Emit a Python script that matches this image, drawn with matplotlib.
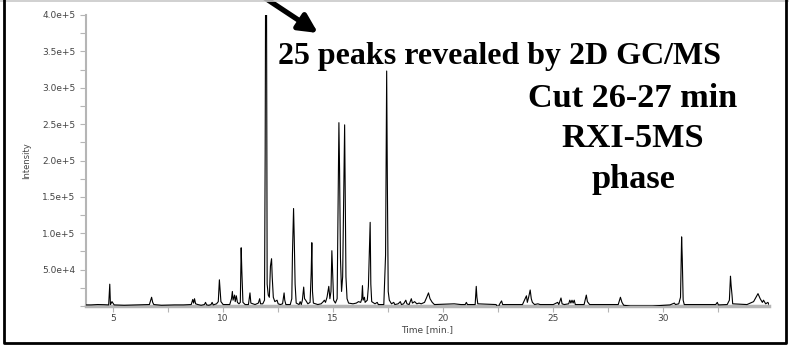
import matplotlib
matplotlib.use("Agg")
import matplotlib.pyplot as plt
import numpy as np
from matplotlib.lines import Line2D
from matplotlib.ticker import MultipleLocator, FuncFormatter

# chromatogram trace (time in min, intensity in 1e3 counts)
trace_time = [
    3.77, 4.0, 4.3, 4.6, 4.8, 4.85, 4.88, 4.95, 5.05, 5.5, 6.0, 6.65, 6.75, 6.8, 6.85,
    7.2, 7.8, 8.2, 8.55, 8.62, 8.66, 8.7, 8.75, 8.85, 9.0, 9.15, 9.2, 9.25, 9.35, 9.45,
    9.5, 9.55, 9.7, 9.78, 9.83, 9.86, 9.9, 10.0, 10.3, 10.38, 10.42, 10.45, 10.52, 10.55,
    10.6, 10.65, 10.72, 10.78, 10.82, 10.85, 10.9, 11.0, 11.15, 11.22, 11.26, 11.45, 11.6,
    11.66, 11.7, 11.8, 11.88, 11.91, 11.93, 11.97, 12.0, 12.05, 12.1, 12.15, 12.2, 12.23,
    12.28, 12.35, 12.45, 12.5, 12.6, 12.7, 12.77, 12.8, 12.85, 13.05, 13.12, 13.15, 13.2,
    13.23, 13.27, 13.32, 13.45, 13.5, 13.55, 13.6, 13.66, 13.7, 13.75, 13.85, 13.95, 14.0,
    14.03, 14.06, 14.1, 14.3, 14.45, 14.55, 14.6, 14.65, 14.72, 14.8, 14.85, 14.9, 14.94,
    14.97, 15.02, 15.1, 15.18, 15.22, 15.26, 15.29, 15.33, 15.38, 15.43, 15.48, 15.52,
    15.55, 15.58, 15.63, 15.7, 15.9, 16.05, 16.15, 16.25, 16.3, 16.33, 16.36, 16.42, 16.45,
    16.55, 16.6, 16.65, 16.68, 16.71, 16.75, 16.9, 17.0, 17.05, 17.3, 17.38, 17.43, 17.46,
    17.5, 17.55, 17.65, 17.75, 17.8, 17.95, 18.05, 18.1, 18.2, 18.3, 18.35, 18.45, 18.55,
    18.6, 18.7, 18.8, 18.9, 19.0, 19.15, 19.25, 19.33, 19.4, 19.5, 19.6, 20.0, 20.5, 20.8,
    21.0, 21.05, 21.1, 21.45, 21.5, 21.53, 21.57, 22.0, 22.4, 22.5, 22.55, 22.65, 22.7,
    23.0, 23.6, 23.78, 23.82, 23.88, 23.95, 24.0, 24.05, 24.15, 24.3, 24.4, 25.0, 25.2,
    25.25, 25.35, 25.4, 25.5, 25.7, 25.75, 25.8, 25.85, 25.9, 25.95, 26.0, 26.4, 26.5,
    26.55, 26.65, 27.5, 27.95, 28.05, 28.12, 28.2, 28.5, 29.5, 30.0, 30.3, 30.5, 30.55,
    30.7, 30.78, 30.83, 30.86, 30.9, 30.95, 32.0, 32.38, 32.45, 32.5, 32.9, 33.0, 33.05,
    33.08, 33.12, 33.15, 33.8, 34.1, 34.3, 34.4, 34.5, 34.55, 34.65, 34.75, 34.8,
]
trace_kcounts = [
    1.5, 1.5, 2.0, 1.8, 1.5, 30, 2, 6, 1.5, 1.0, 1.5, 2, 12, 5, 2,
    1, 1.5, 1.5, 2, 9, 4, 10, 3, 2, 1, 2, 5, 1.5, 1, 2,
    5, 1.5, 3, 6, 36, 24, 6, 2, 2, 10, 20, 8, 15, 6,
    14, 5, 3, 5, 80, 48, 5, 2, 2, 18, 4, 2, 4,
    10, 3, 3, 8, 210, 450, 450, 30, 15, 12, 55, 65, 40,
    12, 6, 8, 3, 2, 3, 18, 8, 2, 2, 10, 72, 134,
    95, 30, 4, 2, 6, 2, 8, 26, 10, 8, 3, 5, 45,
    87, 20, 4, 2, 3, 6, 8, 5, 12, 27, 10, 20, 76,
    50, 8, 4, 10, 130, 252, 187, 66, 20, 40, 150, 249,
    142, 40, 10, 4, 3, 4, 6, 5, 10, 28, 8, 12, 5,
    8, 27, 82, 115, 30, 6, 3, 5, 2, 2, 70, 323, 175,
    20, 8, 3, 5, 2, 3, 6, 2, 3, 8, 3, 2, 10,
    4, 6, 3, 4, 3, 5, 12, 18, 10, 5, 2, 2.5, 3, 2,
    2, 5, 2, 2, 27, 12, 3, 2.5, 2, -2, 2, 7, 2,
    2, 2, 14, 5, 12, 22, 10, 5, 2, 3, 2, 2, 5,
    2, 11, 3, 2, 3, 8, 4, 8, 4, 8, 2, 2, 15,
    6, 2, 2, 2, 12, 5, 1, 0, 0, 1, 1.5, 4, 2,
    3, 12, 95, 65, 8, 2, 2, 2, 5, 1.5, 2, 8, 41,
    28, 15, 3, 2, 6, 17, 10, 5, 8, 3, 5, 2,
]

x_major = [5, 10, 15, 20, 25, 30]
y_major = [5.0e4, 1.0e5, 1.5e5, 2.0e5, 2.5e5, 3.0e5, 3.5e5, 4.0e5]

title_lines = ["25 peaks revealed by 2D GC/MS", "Cut 26-27 min", "RXI-5MS", "phase"]

W, H = 789, 346
fig = plt.figure(figsize=(W / 100, H / 100), dpi=100)
ax = fig.add_axes([86 / W, 1 - 306 / H, (769 - 86) / W, (306 - 15) / H])

t = np.array(trace_time)
y = np.array(trace_kcounts) * 1e3
ax.plot(t, y, color="black", lw=0.8, zorder=3)

ax.set_xlim(3.77, 34.8)
ax.set_ylim(0, 4.0e5)

axis_grey = "#b5b5b5"
for side in ["top", "right"]:
    ax.spines[side].set_visible(False)
ax.spines["left"].set_color(axis_grey)
ax.spines["left"].set_linewidth(1.5)
ax.spines["bottom"].set_color(axis_grey)
ax.spines["bottom"].set_linewidth(2.5)

ax.set_xticks(x_major)
ax.xaxis.set_minor_locator(MultipleLocator(2.5))
ax.set_yticks(y_major)
ax.yaxis.set_minor_locator(MultipleLocator(2.5e4))


def sci(v, pos):
    m, e = f"{v:.1e}".split("e")
    return f"{m}e+{int(e)}"


ax.yaxis.set_major_formatter(FuncFormatter(sci))
ax.tick_params(axis="both", which="both", colors=axis_grey, labelcolor="#444444",
               labelsize=6.5, direction="out")
ax.tick_params(axis="both", which="major", length=4, width=0.8)
ax.tick_params(axis="both", which="minor", length=4, width=0.8)
ax.tick_params(axis="x", pad=2)

ax.set_xlabel("Time [min.]", fontsize=6.5, color="#444444", labelpad=1)
ax.set_ylabel("Intensity", fontsize=6, color="#444444", labelpad=8)

# headline text
serif = "Liberation Serif"
fig.text(499 / W, 1 - 64 / H, title_lines[0], ha="center", va="baseline",
         fontsize=23, fontweight="bold", family=serif)
for line, base in zip(title_lines[1:], [107, 147, 188]):
    fig.text(633 / W, 1 - base / H, line, ha="center", va="baseline",
             fontsize=24.7, fontweight="bold", family=serif)

# arrow pointing at the cut
fig.patches.append(matplotlib.patches.FancyArrowPatch(
    (262 / W, 1 + 4 / H), (318 / W, 1 - 33 / H), transform=fig.transFigure,
    arrowstyle="-|>", mutation_scale=28, lw=3.8, color="black",
    shrinkA=0, shrinkB=0))

# outer frame
fig.add_artist(Line2D([0, 1], [1 - 0.5 / H, 1 - 0.5 / H], transform=fig.transFigure,
                      color="#c8c8c8", lw=1.2))
fig.add_artist(Line2D([4 / W, 4 / W, 786 / W, 786 / W], [1, 1 - 343 / H, 1 - 343 / H, 1],
                      transform=fig.transFigure, color="black", lw=2))

fig.savefig("out.png", dpi=100)
